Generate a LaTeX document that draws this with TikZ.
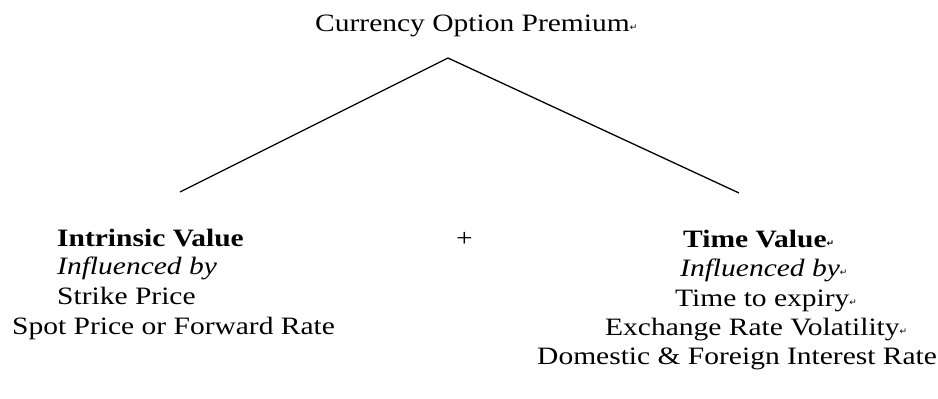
\documentclass[tikz,border=0pt]{standalone}
\usepackage{fontspec}
\setmainfont[FakeStretch=1.18]{Liberation Serif}
\newfontfamily\symfont{DejaVu Sans}
\newcommand{\pmark}{{\symfont\fontsize{9pt}{9pt}\selectfont\raisebox{0.5pt}{↵}}}
\begin{document}
\begin{tikzpicture}[x=1pt,y=-1pt,
  txt/.style={inner sep=0pt,anchor=base west,font=\fontsize{25pt}{30pt}\selectfont},
  conn/.style={line width=1.3pt,black}]
\useasboundingbox (0,0) rectangle (938,399);
\node[txt] (title) at (315,31) {Currency Option Premium\pmark};
\coordinate (apex) at (448,58);
\coordinate (lend) at (180,192);
\coordinate (rend) at (739,193);
\draw[conn] (lend) -- (apex) -- (rend);
\node[txt,font=\fontsize{25pt}{30pt}\selectfont\bfseries] (iv) at (57,246) {Intrinsic Value};
\node[txt,font=\fontsize{25pt}{30pt}\selectfont\itshape] (ivby) at (57,274) {Influenced by};
\node[txt] (strike) at (57,304) {Strike Price};
\node[txt] (spot) at (12,334) {Spot Price or Forward Rate};
\node[txt] (plus) at (456,246) {+};
\node[txt,font=\fontsize{25pt}{30pt}\selectfont\bfseries] (tv) at (683,247) {Time Value\pmark};
\node[txt,font=\fontsize{25pt}{30pt}\selectfont\itshape] (tvby) at (680,276) {Influenced by\pmark};
\node[txt] (expiry) at (675,306) {Time to expiry\pmark};
\node[txt] (vol) at (605,335) {Exchange Rate Volatility\pmark};
\node[txt] (rates) at (537,364) {Domestic \& Foreign Interest Rate};
\end{tikzpicture}
\end{document}
